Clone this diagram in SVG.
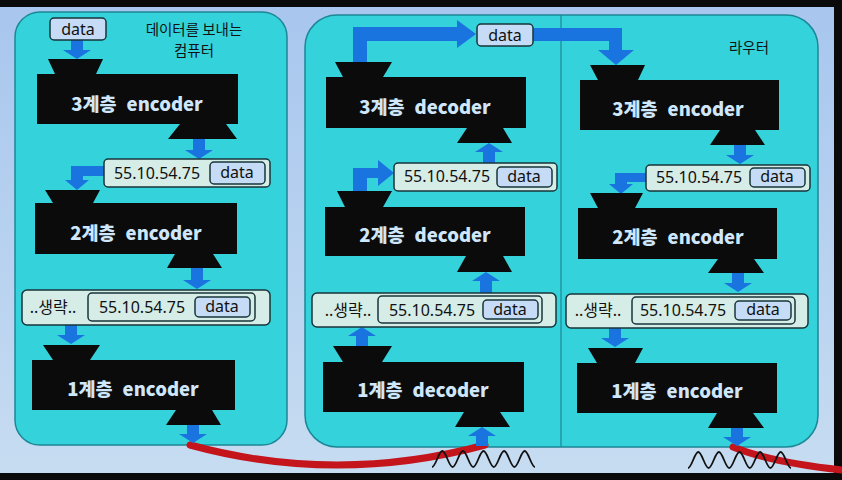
<svg xmlns="http://www.w3.org/2000/svg" width="842" height="480" viewBox="0 0 842 480">
<defs>
<linearGradient id="bg" x1="0" y1="0" x2="0" y2="1">
<stop offset="0" stop-color="#a8c6ee"/>
<stop offset="1" stop-color="#c6dcf1"/>
</linearGradient>
<path id="wave" d="M0 16 C3.7 16 6.6 0 10.3 0 S16.9 16 20.6 16 S27.2 0 30.9 0 S37.5 16 41.2 16 S47.8 0 51.5 0 S58.1 16 61.8 16 S68.4 0 72.1 0 S78.7 16 82.4 16 S89 0 92.7 0 S99.3 16 103 16"/>
</defs>
<style>
.panel{fill:#34d2da;stroke:#1b8797;stroke-width:1.5}
.div{stroke:#1b8797;stroke-width:1.2}
.blk{fill:#0b0b0b}
.lbl{font-family:"Noto Sans CJK KR","Noto Sans",sans-serif;font-weight:900;font-size:18.5px;fill:#cfe6fb;text-anchor:middle}
.hdr{fill:#d6ece6;stroke:#17353a;stroke-width:1.5}
.dat{fill:#c6dcf6;stroke:#17353a;stroke-width:1.5}
.t{font-family:"Noto Sans","Noto Sans CJK KR",sans-serif;font-size:16px;fill:#111;text-anchor:middle}
.ttl{font-family:"Noto Sans CJK KR",sans-serif;font-size:14.5px;fill:#111;text-anchor:middle}
.arr{fill:#1a74e0}
.cable{fill:none;stroke:#c4141c;stroke-width:7;stroke-linecap:round}
.wv{fill:none;stroke:#111;stroke-width:1.8}
</style>
<rect x="0" y="0" width="842" height="480" fill="#0a0a0a"/>
<rect x="0" y="7" width="834" height="466" fill="url(#bg)"/>

<g id="panels">
<rect class="panel" x="15" y="12" width="272" height="433" rx="25"/>
<rect class="panel" x="305" y="15" width="513" height="432" rx="32"/>
<line class="div" x1="561" y1="15" x2="561" y2="447"/>
<text class="ttl" x="194" y="35">데이터를 보내는</text>
<text class="ttl" x="194" y="56">컴퓨터</text>
<text class="ttl" x="749" y="53">라우터</text>
</g>

<g id="connectors">
<path class="cable" d="M190 445 Q337 485 485 445"/>
<path class="cable" d="M733 447 Q770 462 842 470"/>
<use href="#wave" class="wv" x="432" y="451"/>
<use href="#wave" class="wv" x="688" y="452"/>
<!-- left panel -->
<path class="arr" d="M71 40 H83 V50 H91 L77 59 L63 50 H71 Z"/>
<path class="arr" d="M193 139 H205 V150 H213 L199 159 L185 150 H193 Z"/>
<path class="arr" d="M104 166 H71 V180 H65 L77 190 L89 180 H83 V176 H104 Z"/>
<path class="arr" d="M191 268 H203 V280 H211 L197 289 L183 280 H191 Z"/>
<path class="arr" d="M65 325 H77 V335 H85 L71 344 L57 335 H65 Z"/>
<path class="arr" d="M187 425 H199 V434 H207 L193 443 L179 434 H187 Z"/>
<!-- middle panel -->
<path class="arr" d="M353 62 V27 H457 V20 L476 34 L457 48 V41 H367 V62 Z"/>
<path class="arr" d="M533 28 H622 V50 H634 L616 65 L598 50 H609 V41 H533 Z"/>
<path class="arr" d="M483 163 H495 V152 H503 L489 143 L475 152 H483 Z"/>
<path class="arr" d="M353 192 V168 H378 V160 L394 173 L378 186 V178 H367 V192 Z"/>
<path class="arr" d="M480 293 H492 V281 H500 L486 272 L472 281 H480 Z"/>
<path class="arr" d="M356 346 H368 V336 H376 L362 327 L348 336 H356 Z"/>
<path class="arr" d="M476 446 H488 V436 H496 L482 427 L468 436 H476 Z"/>
<!-- right panel -->
<path class="arr" d="M734 145 H746 V155 H754 L740 164 L726 155 H734 Z"/>
<path class="arr" d="M646 173 H615 V184 H609 L621 194 L633 184 H627 V182 H646 Z"/>
<path class="arr" d="M732 273 H744 V283 H752 L738 292 L724 283 H732 Z"/>
<path class="arr" d="M609 328 H621 V338 H629 L615 347 L601 338 H609 Z"/>
<path class="arr" d="M731 428 H743 V437 H751 L737 446 L723 437 H731 Z"/>
</g>

<!-- left panel nodes -->
<g id="data-src">
<rect class="dat" x="50" y="18" width="56" height="22" rx="4"/>
<text class="t" x="78" y="35">data</text>
</g>
<g id="L3-encoder">
<polygon class="blk" points="48,59 103,59 96,74 55,74"/>
<rect class="blk" x="37" y="74" width="201" height="50"/>
<polygon class="blk" points="180,124 226,124 237,139 168,139"/>
<text class="lbl" x="137" y="111">3계층<tspan dx="10">encoder</tspan></text>
</g>
<g id="L-hdr3">
<rect class="hdr" x="104" y="159" width="166" height="28" rx="4"/>
<rect class="dat" x="210" y="162" width="55" height="22" rx="4"/>
<text class="t" x="157" y="179">55.10.54.75</text>
<text class="t" x="237" y="178">data</text>
</g>
<g id="L2-encoder">
<polygon class="blk" points="45,190 100,190 93,203 53,203"/>
<rect class="blk" x="35" y="203" width="202" height="51"/>
<polygon class="blk" points="175,254 213,254 222,268 167,268"/>
<text class="lbl" x="136" y="240">2계층<tspan dx="10">encoder</tspan></text>
</g>
<g id="L-hdr2">
<rect class="hdr" x="22" y="290" width="248" height="35" rx="5"/>
<rect class="hdr" x="88" y="293" width="167" height="28" rx="4"/>
<rect class="dat" x="195" y="297" width="55" height="20" rx="4"/>
<text class="t" x="53" y="313">..생략..</text>
<text class="t" x="142" y="313">55.10.54.75</text>
<text class="t" x="222" y="312">data</text>
</g>
<g id="L1-encoder">
<polygon class="blk" points="43,345 100,345 90,360 53,360"/>
<rect class="blk" x="32" y="360" width="203" height="50"/>
<polygon class="blk" points="176,410 212,410 221,425 166,425"/>
<text class="lbl" x="133" y="396">1계층<tspan dx="10">encoder</tspan></text>
</g>

<!-- middle panel nodes -->
<g id="data-mid">
<rect class="dat" x="477" y="24" width="56" height="22" rx="4"/>
<text class="t" x="505" y="41">data</text>
</g>
<g id="M3-decoder">
<polygon class="blk" points="335,62 392,62 383,77 343,77"/>
<rect class="blk" x="326" y="77" width="200" height="51"/>
<polygon class="blk" points="467,128 503,128 512,143 457,143"/>
<text class="lbl" x="425" y="114">3계층<tspan dx="10">decoder</tspan></text>
</g>
<g id="M-hdr3">
<rect class="hdr" x="394" y="163" width="163" height="28" rx="4"/>
<rect class="dat" x="497" y="167" width="55" height="20" rx="4"/>
<text class="t" x="447" y="182">55.10.54.75</text>
<text class="t" x="524" y="182">data</text>
</g>
<g id="M2-decoder">
<polygon class="blk" points="337,191 392,191 383,207 345,207"/>
<rect class="blk" x="325" y="207" width="200" height="49"/>
<polygon class="blk" points="466,256 503,256 512,272 457,272"/>
<text class="lbl" x="425" y="242">2계층<tspan dx="10">decoder</tspan></text>
</g>
<g id="M-hdr2">
<rect class="hdr" x="312" y="293" width="244" height="34" rx="5"/>
<rect class="hdr" x="378" y="296" width="164" height="27" rx="4"/>
<rect class="dat" x="483" y="300" width="55" height="19" rx="4"/>
<text class="t" x="348" y="316">..생략..</text>
<text class="t" x="432" y="316">55.10.54.75</text>
<text class="t" x="510" y="315">data</text>
</g>
<g id="M1-decoder">
<polygon class="blk" points="333,346 392,346 382,362 343,362"/>
<rect class="blk" x="323" y="362" width="201" height="50"/>
<polygon class="blk" points="464,412 500,412 510,427 455,427"/>
<text class="lbl" x="423" y="397">1계층<tspan dx="10">decoder</tspan></text>
</g>

<!-- right panel nodes -->
<g id="R3-encoder">
<polygon class="blk" points="590,65 645,65 638,80 598,80"/>
<rect class="blk" x="580" y="80" width="199" height="50"/>
<polygon class="blk" points="720,130 755,130 765,145 710,145"/>
<text class="lbl" x="678" y="116">3계층<tspan dx="10">encoder</tspan></text>
</g>
<g id="R-hdr3">
<rect class="hdr" x="646" y="165" width="164" height="26" rx="4"/>
<rect class="dat" x="750" y="168" width="55" height="19" rx="4"/>
<text class="t" x="699" y="183">55.10.54.75</text>
<text class="t" x="777" y="182">data</text>
</g>
<g id="R2-encoder">
<polygon class="blk" points="590,193 643,193 635,208 598,208"/>
<rect class="blk" x="578" y="208" width="199" height="51"/>
<polygon class="blk" points="718,259 754,259 764,273 708,273"/>
<text class="lbl" x="678" y="244">2계층<tspan dx="10">encoder</tspan></text>
</g>
<g id="R-hdr2">
<rect class="hdr" x="566" y="294" width="242" height="34" rx="5"/>
<rect class="hdr" x="632" y="297" width="163" height="27" rx="4"/>
<rect class="dat" x="735" y="301" width="56" height="19" rx="4"/>
<text class="t" x="598" y="316">..생략..</text>
<text class="t" x="683" y="316">55.10.54.75</text>
<text class="t" x="763" y="315">data</text>
</g>
<g id="R1-encoder">
<polygon class="blk" points="588,348 643,348 635,363 597,363"/>
<rect class="blk" x="577" y="363" width="200" height="50"/>
<polygon class="blk" points="717,413 753,413 764,428 708,428"/>
<text class="lbl" x="677" y="398">1계층<tspan dx="10">encoder</tspan></text>
</g>
</svg>
